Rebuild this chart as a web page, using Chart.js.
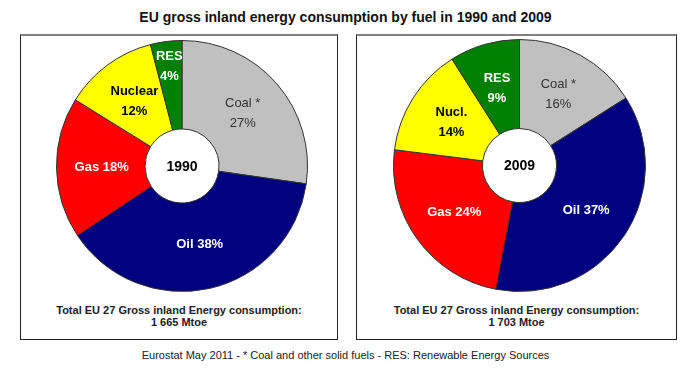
<!DOCTYPE html>
<html>
<head>
<meta charset="utf-8">
<script src="https://cdn.jsdelivr.net/npm/chart.js@4/dist/chart.umd.min.js"></script>
<style>
  body { margin: 0; background: #fff; font-family: "Liberation Sans", Arial, sans-serif; }
  #wrap { position: relative; width: 691px; height: 375px; overflow: hidden; }
  .title { position: absolute; left: 0; width: 691px; top: 9px; text-align: center; font-weight: bold; font-size: 14px; color: #111; }
  .panel { position: absolute; top: 34px; height: 306px; border: 1px solid #222; border-top: 2px solid #808080; box-sizing: border-box; }
  .total { position: absolute; left: 0; right: 0; text-align: center; font-weight: bold; font-size: 11px; line-height: 12px; color: #222; }
  .foot { position: absolute; left: 0; width: 691px; top: 349px; text-align: center; font-size: 11px; color: #222; }
  canvas { position: absolute; }
</style>
</head>
<body>
<div id="wrap">
  <div class="title">EU gross inland energy consumption by fuel in 1990 and 2009</div>
  <div class="panel" style="left:20px;width:318px;"></div>
  <div class="panel" style="left:356px;width:321px;"></div>
  <div class="total" style="left:20px;width:318px;right:auto;top:304px;">Total EU 27 Gross inland Energy consumption:<br>1 665 Mtoe</div>
  <div class="total" style="left:356px;width:321px;right:auto;top:304px;">Total EU 27 Gross inland Energy consumption:<br>1 703 Mtoe</div>
  <canvas id="c1990" width="252" height="252" style="left:56px;top:40px;"></canvas>
  <canvas id="c2009" width="253" height="253" style="left:393px;top:39px;"></canvas>
  <div class="foot">Eurostat May 2011 - * Coal and other solid fuels - RES: Renewable Energy Sources</div>
</div>
<script>
// shares of gross inland consumption, %
var fuels = ['Coal', 'Oil', 'Gas', 'Nuclear', 'RES'];
var names1990 = ['Coal *', 'Oil', 'Gas', 'Nuclear', 'RES'];
var names2009 = ['Coal *', 'Oil', 'Gas', 'Nucl.', 'RES'];
var share1990 = [27, 38, 18, 12, 4];
var share2009 = [16, 37, 24, 14, 9];

var colors = ['#c0c0c0', '#000080', '#ff0000', '#ffff00', '#008000'];
var textColors = ['#333333', '#ffffff', '#ffffff', '#000000', '#ffffff'];
var textBold = [false, true, true, true, true];
var twoLines = [true, false, false, true, true];

var FONT = '"Liberation Sans", Arial, sans-serif';

var sliceLabels = {
  id: 'sliceLabels',
  afterDatasetsDraw: function(chart, args, opts) {
    var ctx = chart.ctx;
    var meta = chart.getDatasetMeta(0);
    var data = chart.data.datasets[0].data;
    var names = opts.names;
    ctx.save();
    ctx.textAlign = 'center';
    ctx.textBaseline = 'middle';
    meta.data.forEach(function(arc, i) {
      var p = arc.getProps(['x', 'y', 'startAngle', 'endAngle', 'outerRadius'], true);
      var mid = (p.startAngle + p.endAngle) / 2;
      var f = data[i] < 5 ? 0.8 : 0.64;
      var x = p.x + Math.cos(mid) * p.outerRadius * f;
      var y = p.y + Math.sin(mid) * p.outerRadius * f;
      ctx.fillStyle = textColors[i];
      ctx.font = (textBold[i] ? 'bold ' : '') + '13px ' + FONT;
      if (twoLines[i]) {
        ctx.fillText(names[i], x, y - 10);
        ctx.fillText(data[i] + '%', x, y + 10);
      } else {
        ctx.fillText(names[i] + ' ' + data[i] + '%', x, y);
      }
    });
    // year in the hole
    var a = meta.data[0];
    ctx.fillStyle = '#000';
    ctx.font = 'bold 14px ' + FONT;
    ctx.fillText(opts.year, a.x, a.y + 1);
    ctx.restore();
  }
};

function makePie(id, values, names, year) {
  return new Chart(document.getElementById(id), {
    type: 'doughnut',
    data: {
      labels: fuels,
      datasets: [{
        data: values,
        backgroundColor: colors,
        borderColor: '#333333',
        borderWidth: 1
      }]
    },
    options: {
      responsive: false,
      animation: false,
      cutout: 37,
      layout: { padding: 0 },
      plugins: {
        legend: { display: false },
        tooltip: { enabled: false },
        sliceLabels: { names: names, year: year }
      }
    },
    plugins: [sliceLabels]
  });
}

makePie('c1990', share1990, names1990, '1990');
makePie('c2009', share2009, names2009, '2009');
</script>
</body>
</html>
